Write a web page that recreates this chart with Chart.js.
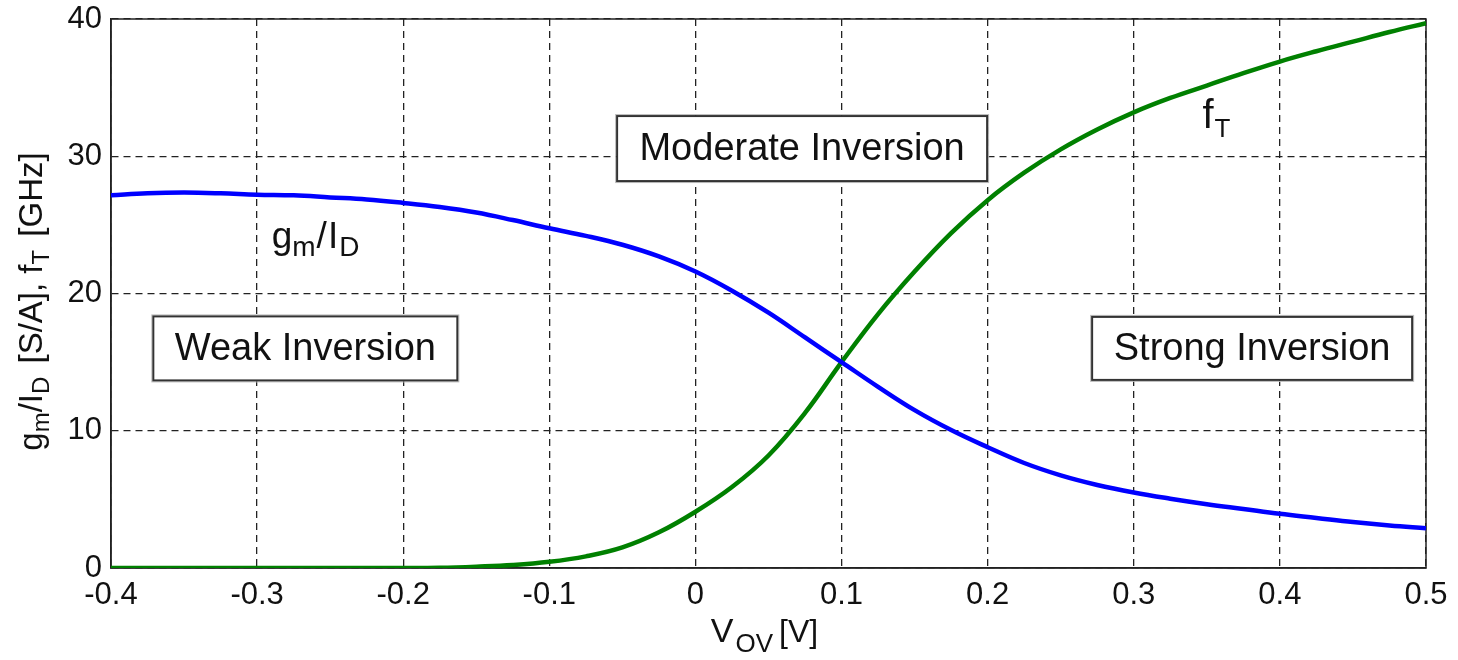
<!DOCTYPE html>
<html><head><meta charset="utf-8">
<script src="https://cdn.jsdelivr.net/npm/chart.js@4/dist/chart.umd.min.js"></script>
<style>html,body{margin:0;padding:0;background:#fff;}#wrap{width:1458px;height:660px;}</style>
</head><body><div id="wrap"><canvas id="c" width="1458" height="660"></canvas></div>
<script>
// ---- data ----
const vov = [-0.4,-0.375,-0.35,-0.325,-0.3,-0.275,-0.25,-0.225,-0.2,-0.175,-0.15,-0.125,-0.1,-0.075,-0.05,-0.025,0,0.025,0.05,0.075,0.1,0.125,0.15,0.175,0.2,0.225,0.25,0.275,0.3,0.325,0.35,0.375,0.4,0.425,0.45,0.475,0.5];
const gmId = [27.15,27.3,27.35,27.3,27.2,27.15,27.0,26.85,26.6,26.3,25.9,25.35,24.75,24.2,23.55,22.7,21.6,20.2,18.6,16.8,15.0,13.2,11.5,10.05,8.8,7.65,6.75,6.05,5.5,5.05,4.65,4.3,3.95,3.65,3.35,3.1,2.9];
const fT = [0,0,0,0,0,0,0,0,0,0.02,0.1,0.22,0.45,0.85,1.5,2.6,4.1,5.9,8.2,11.3,15.0,18.5,21.6,24.4,26.8,28.8,30.5,31.95,33.2,34.25,35.15,36.05,36.9,37.65,38.35,39.05,39.7];
const xTickValues = [-0.4,-0.3,-0.2,-0.1,0,0.1,0.2,0.3,0.4,0.5];
const xTickLabels = ['-0.4','-0.3','-0.2','-0.1','0','0.1','0.2','0.3','0.4','0.5'];
const yTickValues = [0,10,20,30,40];
const yTickLabels = ['0','10','20','30','40'];
const regionLabels = ['Weak Inversion','Moderate Inversion','Strong Inversion'];

// ---- presentation ----
const FONT = '"Liberation Sans", Arial, Helvetica, sans-serif';
const regionPlacement = [
  {x:-0.267, y:16.0, w:304, h:64},
  {x:0.073, y:30.56, w:370, h:65},
  {x:0.381, y:16.0, w:320, h:63}
];

function richWidth(ctx, parts){
  let w = 0;
  parts.forEach(p => { ctx.font = p[1] + 'px ' + FONT; w += ctx.measureText(p[0]).width + (p[3]||0); });
  return w;
}
function richDraw(ctx, parts, x, y, align){
  let w = richWidth(ctx, parts);
  let cx = align === 'center' ? x - w/2 : x;
  ctx.textBaseline = 'alphabetic';
  ctx.textAlign = 'left';
  parts.forEach(p => {
    ctx.font = p[1] + 'px ' + FONT;
    ctx.fillText(p[0], cx, y + p[2]);
    cx += ctx.measureText(p[0]).width + (p[3]||0);
  });
}

const annot = {
  id: 'annot',
  beforeDatasetsDraw(chart){
    const {ctx, chartArea: ca} = chart;
    ctx.save();
    ctx.strokeStyle = '#222';
    ctx.lineWidth = 1.5;
    ctx.strokeRect(ca.left, ca.top, ca.right - ca.left, ca.bottom - ca.top);
    ctx.restore();
  },
  afterDatasetsDraw(chart){
    const {ctx, scales:{x, y}, chartArea: ca} = chart;
    ctx.save();
    regionLabels.forEach((lab, i) => {
      const p = regionPlacement[i];
      const cx = x.getPixelForValue(p.x), cy = y.getPixelForValue(p.y);
      ctx.fillStyle = '#fff';
      ctx.fillRect(cx - p.w/2, cy - p.h/2, p.w, p.h);
      ctx.strokeStyle = '#bbb'; ctx.lineWidth = 1;
      ctx.strokeRect(cx - p.w/2 - 1.5, cy - p.h/2 - 1.5, p.w + 3, p.h + 3);
      ctx.strokeStyle = '#333'; ctx.lineWidth = 2;
      ctx.strokeRect(cx - p.w/2, cy - p.h/2, p.w, p.h);
      ctx.fillStyle = '#111';
      ctx.font = '38px ' + FONT;
      ctx.textAlign = 'center'; ctx.textBaseline = 'middle';
      ctx.fillText(lab, cx, cy + 1);
    });
    ctx.fillStyle = '#111';
    richDraw(ctx, [['g',37,0],['m',28,8,1],['/',37,0,1],['I',37,0,1],['D',28,8]],
      x.getPixelForValue(-0.29), y.getPixelForValue(23.3), 'left');
    richDraw(ctx, [['f',40,0,1],['T',26,9]],
      x.getPixelForValue(0.347), y.getPixelForValue(32.06), 'left');
    richDraw(ctx, [['V',34,0,2],['OV',26,10,6],['[V]',32,0]],
      (ca.left + ca.right)/2 - 4, 642, 'center');
    ctx.translate(42, (ca.top + ca.bottom)/2 + 8);
    ctx.rotate(-Math.PI/2);
    richDraw(ctx, [['g',33,0],['m',24,7],['/',33,0],['I',33,0],['D',24,7,4],[' [S/A], f',33,0],['T',24,7,4],[' [GHz]',33,0]], 0, 0, 'center');
    ctx.restore();
  }
};

const ctx = document.getElementById('c').getContext('2d');
new Chart(ctx, {
  type: 'line',
  data: {
    datasets: [
      {label: 'gm/ID', data: vov.map((v, i) => ({x: v, y: gmId[i]})), borderColor: '#0000ff', borderWidth: 4.5, pointRadius: 0, tension: 0.4, fill: false},
      {label: 'fT', data: vov.map((v, i) => ({x: v, y: fT[i]})), borderColor: '#008000', borderWidth: 4.5, pointRadius: 0, tension: 0.4, fill: false}
    ]
  },
  options: {
    responsive: false, animation: false, devicePixelRatio: 1,
    layout: {padding: {top: 19, right: 32, left: 0, bottom: 0}},
    plugins: {legend: {display: false}, tooltip: {enabled: false}},
    scales: {
      x: {
        type: 'linear', min: -0.4, max: 0.5,
        afterBuildTicks: s => { s.ticks = xTickValues.map(v => ({value: v})); },
        afterFit: s => { s.height = 92; s.paddingLeft = 0; s.paddingRight = 0; },
        ticks: {autoSkip: false, maxRotation: 0, padding: 9, color: '#111',
          font: {size: 31, family: FONT},
          callback: v => { const i = xTickValues.findIndex(t => Math.abs(t - v) < 1e-9); return i >= 0 ? xTickLabels[i] : ''; }},
        grid: {color: '#222', lineWidth: 1.3, drawTicks: false},
        border: {display: true, color: '#222', width: 1.5, dash: [7, 5]}
      },
      y: {
        min: 0, max: 40,
        afterBuildTicks: s => { s.ticks = yTickValues.map(v => ({value: v})); },
        afterFit: s => { s.width = 111; s.paddingTop = 0; s.paddingBottom = 0; },
        ticks: {padding: 9, color: '#111', font: {size: 31, family: FONT},
          callback: v => { const i = yTickValues.indexOf(v); return i >= 0 ? yTickLabels[i] : ''; }},
        grid: {color: '#222', lineWidth: 1.3, drawTicks: false},
        border: {display: true, color: '#222', width: 1.5, dash: [7, 5]}
      }
    }
  },
  plugins: [annot]
});
</script>
</body></html>
